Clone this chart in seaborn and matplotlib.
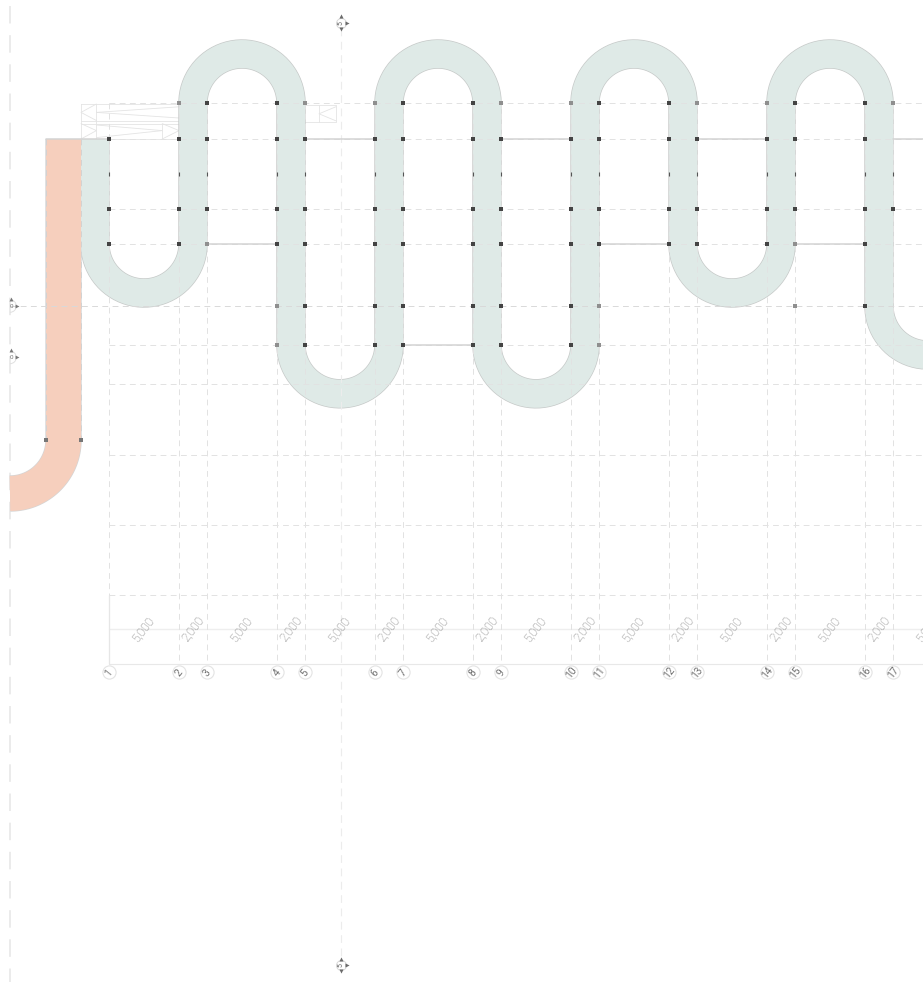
import numpy as np
import pandas as pd
import matplotlib
matplotlib.use("Agg")
import matplotlib.pyplot as plt
from matplotlib.patches import Arc
import seaborn as sns

# plan units are mm, drawing scale 14 px per 1000 mm
PX = 0.014
X0_PX, Y0_PX = 109, 139

# grid spans along the bottom dimension line
spans = [5000, 2000] * 8 + [5000]
span_labels = ["5,000", "2,000"] * 8 + ["5,000"]
bubble_labels = [str(i) for i in range(1, 18)]
# horizontal grid lines
row_y = [-2570, 0, 5000, 7500, 11930, 14700, 17500, 22570, 27570, 32570]
tick_row = 2500
dim_y, bottom_y = 35000, 37500
bubble_y = 38100
centre_x = 16550
edge_x = -7071

grid_x = np.concatenate([[0], np.cumsum(spans)])[:17]

# column dots, dark ones and pale ones, per row
columns_top = list(grid_x[1:])
dots_dark = {
    -2570: [7000, 12000, 21000, 26000, 35000, 40000, 49000, 54000],
    0: [0, 5000, 7000, 12000, 21000, 26000, 28000, 33000, 35000, 40000, 42000, 47000, 49000, 54000, 19000, 14000],
    5000: [0] + columns_top,
    7500: [0, 5000, 14000, 12000, 19000, 21000, 26000, 28000, 33000, 35000, 42000, 47000, 54000, 40000],
    11930: [14000, 19000, 21000, 26000, 28000, 33000, 56000 - 2000],
    14700: [14000, 19000, 21000, 26000, 28000, 33000],
}
dots_pale = {
    -2570: [5000, 14000, 19000, 28000, 33000, 42000, 47000, 56000 - 2000 + 2000],
    7500: [7000, 49000],
    11930: [12000, 35000, 49000],
    14700: [12000, 35000],
}
salmon_dots_x = [-4500, -2000]
salmon_dots_y = 21500

# ribbon turning points: centre column left, centre column right, row of the arc, direction
teal_turns = [
    (-1000, 6000, 7500, 1),
    (6000, 13000, -2570, -1),
    (13000, 20000, 14700, 1),
    (20000, 27000, -2570, -1),
    (27000, 34000, 14700, 1),
    (34000, 41000, -2570, -1),
    (41000, 48000, 7500, 1),
    (48000, 55000, -2570, -1),
    (55000, 62000, 11930, 1),
]

# solid beam lines (x from, x to, y)
beams = [
    (-4500, 0, 0), (14000, 19000, 0), (28000, 33000, 0), (42000, 47000, 0), (56000, 60000, 0),
    (7000, 12000, 7500), (35000, 40000, 7500), (49000, 54000, 7500),
    (21000, 26000, 14700),
]

# stair wireframes
stair_lines = [
    ([-2000, 5000, 5000, -2000, -2000], [-2500, -2500, 0, 0, -2500]),
    ([-2000, 5000], [-1320, -1320]),
    ([-2000, 5000], [-1100, -1100]),
    ([-900, -900], [-2500, 0]),
    ([-900, -2000, -900], [-2500, -1900, -1320]),
    ([-2000, -900, -2000], [-1100, -600, 0]),
    ([-900, 5000], [-1900, -2300]),
    ([-900, 5000], [-1900, -1500]),
    ([3800, 3800], [-1100, 0]),
    ([3800, 5000, 3800], [-1100, -600, 0]),
    ([-900, 3800], [-1000, -600]),
    ([-900, 3800], [-100, -600]),
    ([14000, 16200, 16200, 14000], [-2430, -2430, -1200, -1200]),
    ([15000, 15000], [-2430, -1200]),
    ([16200, 15000, 16200], [-2300, -1800, -1300]),
]

sns.set_theme(style="white")
plt.rcParams["font.family"] = ["Roboto", "DejaVu Sans"]

fig = plt.figure(figsize=(9.23, 9.82), dpi=100)
ax = fig.add_axes([0, 0, 1, 1])
ax.set_xlim(-X0_PX / PX, (923 - X0_PX) / PX)
ax.set_ylim((982 - Y0_PX) / PX, -Y0_PX / PX)
ax.axis("off")
x_end = (923 - X0_PX) / PX
y_end = (982 - Y0_PX) / PX


def ribbon_centreline():
    xs, ys = [-1000], [0]
    for left, right, row, way in teal_turns:
        cx, r = (left + right) / 2, (right - left) / 2
        t = np.linspace(np.pi, 0, 80)
        xs += list(cx + r * np.cos(t))
        ys += list(row + way * r * np.sin(t))
    return xs, ys


def draw_band(xs, ys, width_px, color, edge):
    for lw, col, z in [((width_px + 1.4) * 0.72, edge, 2), (width_px * 0.72, color, 3)]:
        line = sns.lineplot(x=xs, y=ys, sort=False, estimator=None, ax=ax, color=col, linewidth=lw, legend=False)
        line.lines[-1].set_solid_capstyle("butt")
        line.lines[-1].set_zorder(z)


# teal ribbon
rx, ry = ribbon_centreline()
draw_band(rx, ry, 28, "#dfeae7", "#c6c9c8")

# salmon ramp
t = np.linspace(0, np.pi / 2, 50)
sx = [-3250] + list(edge_x + 3821 * np.cos(t))
sy = [0] + list(21500 + 3821 * np.sin(t))
draw_band(sx, sy, 35, "#f6cfbd", "#d5d5d5")

GRID = "#e2e2e2"
dash = (0, (6, 4.5))

# vertical grid lines
for x in grid_x:
    ax.plot([x, x], [-2570, bottom_y], color=GRID, lw=0.7, ls=dash, zorder=4)
ax.plot([0, 0], [32570, bottom_y], color="#e6e6e6", lw=0.9, zorder=4)
for x in salmon_dots_x:
    ax.plot([x, x], [0, 21500], color="#d2d2d2", lw=0.7, ls=dash, zorder=4)
ax.plot([centre_x, centre_x], [-7900, 58800], color="#ececec", lw=0.8, ls=(0, (7, 5)), zorder=4)
ax.plot([edge_x, edge_x], [-9500, y_end], color="#ebebeb", lw=1.4, ls=(0, (9, 6)), zorder=1)

# horizontal grid lines
for y in row_y:
    start = edge_x if y == 11930 else 0
    col = "#d9d9d9" if y == 11930 else GRID
    ax.plot([start, x_end], [y, y], color=col, lw=0.7, ls=dash, zorder=4)

# dimension lines
ax.plot([0, x_end], [dim_y, dim_y], color="#eeeeee", lw=1.0, zorder=1)
ax.plot([0, x_end], [bottom_y, bottom_y], color="#e8e8e8", lw=0.8, zorder=1)

# beams
beam_df = pd.DataFrame(
    [(i, b[0], b[2]) for i, b in enumerate(beams)] + [(i, b[1], b[2]) for i, b in enumerate(beams)],
    columns=["id", "x", "y"],
)
sns.lineplot(data=beam_df, x="x", y="y", units="id", estimator=None, color="#d3d3d3",
             linewidth=1.1, ax=ax, legend=False, zorder=5)

# stairs
for lx, ly in stair_lines:
    ax.plot(lx, ly, color="#e4e4e4", lw=0.6, zorder=1)

# columns
dark = pd.DataFrame([(x, y) for y, xs in dots_dark.items() for x in xs], columns=["x", "y"])
pale = pd.DataFrame([(x, y) for y, xs in dots_pale.items() for x in xs], columns=["x", "y"])
sns.scatterplot(data=dark, x="x", y="y", color="#444444", s=9, marker="s", linewidth=0, ax=ax, zorder=6)
sns.scatterplot(data=pale, x="x", y="y", color="#8f8f8f", s=7, marker="s", linewidth=0, ax=ax, zorder=6)
ticks = pd.DataFrame({"x": [0] + columns_top, "y": tick_row})
sns.scatterplot(data=ticks, x="x", y="y", color="#555555", s=6, marker="|", linewidth=0.8, ax=ax, zorder=6)
sns.scatterplot(x=salmon_dots_x, y=[salmon_dots_y] * 2, color="#777777", s=7, marker="s", linewidth=0, ax=ax, zorder=6)

# span labels, clipped by the figure edge
mids = np.concatenate([[0], np.cumsum(spans)])
for i, label in enumerate(span_labels):
    ax.text((mids[i] + mids[i + 1]) / 2, dim_y, label, rotation=52, ha="center", va="center",
            fontsize=8.6, color="#6f6f6f", fontweight="light", rotation_mode="anchor", zorder=7)

# grid bubbles
sns.scatterplot(x=grid_x, y=[bubble_y] * len(grid_x), s=90, facecolor="white", edgecolor="#e3e3e3",
                linewidth=0.8, ax=ax, zorder=6)
for x, label in zip(grid_x, bubble_labels):
    ax.text(x, bubble_y, label, rotation=52, ha="center", va="center", fontsize=7.4, color="#6f6f6f",
            rotation_mode="anchor", zorder=7)

# section heads at top and bottom of the centre line
for y in [-8300, 59000]:
    sns.scatterplot(x=[centre_x], y=[y], s=52, facecolor="white", edgecolor="#d8d8d8", linewidth=0.7, ax=ax, zorder=6)
    ax.text(centre_x, y, "5", ha="center", va="center", fontsize=5, color="#666666", rotation=90, zorder=7)
    sns.scatterplot(x=[centre_x], y=[y - 460], s=9, marker="^", color="#6a6a6a", linewidth=0, ax=ax, zorder=7)
    sns.scatterplot(x=[centre_x], y=[y + 460], s=9, marker="v", color="#6a6a6a", linewidth=0, ax=ax, zorder=7)
    sns.scatterplot(x=[centre_x + 460], y=[y], s=9, marker=">", color="#6a6a6a", linewidth=0, ax=ax, zorder=7)

# cut section heads on the left edge
for y in [11930, 15600]:
    ax.add_patch(Arc((edge_x, y), 900, 900, theta1=-90, theta2=90, color="#e0e0e0", lw=0.7, zorder=6))
    ax.text(edge_x + 130, y, "0", ha="center", va="center", fontsize=4.5, color="#777777", zorder=7)
    sns.scatterplot(x=[edge_x + 100], y=[y - 520], s=8, marker="^", color="#777777", linewidth=0, ax=ax, zorder=7)
    sns.scatterplot(x=[edge_x + 480], y=[y], s=8, marker=">", color="#777777", linewidth=0, ax=ax, zorder=7)

ax.set_xlim(-X0_PX / PX, x_end)
ax.set_ylim(y_end, -Y0_PX / PX)
ax.axis("off")
fig.savefig("out.png", dpi=100, facecolor="white")
